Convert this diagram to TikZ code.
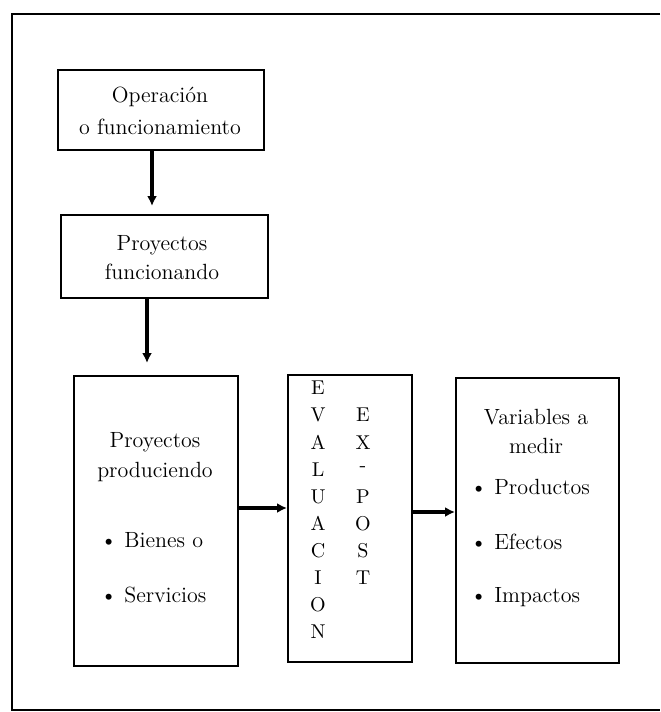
\documentclass[tikz,border=0pt]{standalone}
\usetikzlibrary{arrows.meta}
\begin{document}
\begin{tikzpicture}[x=0.5pt,y=-0.5pt,
  every node/.style={font=\fontsize{11}{14}\selectfont, inner sep=0pt},
  box/.style={draw=black, line width=1pt, rectangle, anchor=north west},
  lbl/.style={anchor=center},
  item/.style={anchor=west},
  letter/.style={anchor=center, font=\fontsize{10}{12}\selectfont},
  flow/.style={line width=1.6pt, -{Latex[length=5pt,width=5pt]}}
]
\useasboundingbox (0,0) rectangle (660,712);

% outer frame (open on the right)
\draw[line width=0.9pt] (660,14) -- (12,14) -- (12,710) -- (660,710);

% boxes
\node[box, minimum width=103pt, minimum height=40pt] (b1) at (57,69) {};
\node[box, minimum width=103.5pt, minimum height=41.5pt] (b2) at (60,214) {};
\node[box, minimum width=82pt, minimum height=145pt] (b3) at (73,375) {};
\node[box, minimum width=62pt, minimum height=143.5pt] (b4) at (287,374) {};
\node[box, minimum width=81.5pt, minimum height=142.5pt] (b5) at (455,377) {};

% box texts
\node[lbl] (t1a) at (160,97) {Operación};
\node[lbl] (t1b) at (160,127) {o funcionamiento};
\node[lbl] (t2a) at (162,245) {Proyectos};
\node[lbl] (t2b) at (162,272) {funcionando};
\node[lbl] (t3a) at (155,442) {Proyectos};
\node[lbl] (t3b) at (155,472) {produciendo};
\node[item] (t3c) at (100,540) {\textbullet\ Bienes o};
\node[item] (t3d) at (100,595) {\textbullet\ Servicios};
\node[lbl] (t5a) at (536,417) {Variables a};
\node[lbl] (t5b) at (536,446) {medir};
\node[item] (t5c) at (470,487) {\textbullet\ Productos};
\node[item] (t5d) at (470,542) {\textbullet\ Efectos};
\node[item] (t5e) at (470,597) {\textbullet\ Impactos};

% vertical lettering
\foreach \ch [count=\i from 0] in {E,V,A,L,U,A,C,I,O,N}
  \node[letter] (ev\i) at (318,388+27.1*\i) {\ch};
\foreach \ch [count=\i from 1] in {E,X,-,P,O,S,T}
  \node[letter] (ep\i) at (363,388+27.1*\i) {\ch};

% connector guides
\coordinate (g1) at (152,0);
\coordinate (g2) at (147,0);
\coordinate (g3) at (0,508);
\coordinate (g4) at (0,512);

% connectors
\draw[flow, shorten >=4pt] (b1.south -| g1) -- (b2.north -| g1);
\draw[flow, shorten >=6pt] (b2.south -| g2) -- (b3.north -| g2);
\draw[flow] (b3.east |- g3) -- (b4.west |- g3);
\draw[flow] (b4.east |- g4) -- (b5.west |- g4);
\end{tikzpicture}
\end{document}
